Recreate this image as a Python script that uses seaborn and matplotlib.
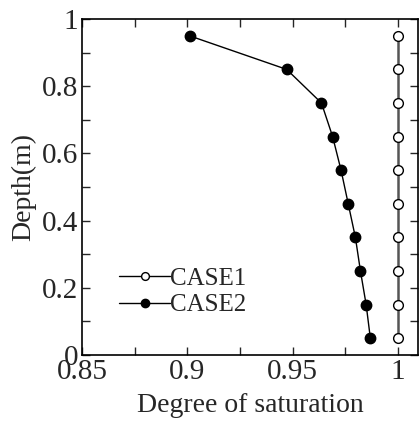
import numpy as np
import pandas as pd
import matplotlib
matplotlib.use("Agg")
import matplotlib.pyplot as plt
import seaborn as sns
from matplotlib.ticker import MultipleLocator

depth = [0.05, 0.15, 0.25, 0.35, 0.45, 0.55, 0.65, 0.75, 0.85, 0.95]
case1 = [1.0, 1.0, 1.0, 1.0, 1.0, 1.0, 1.0, 1.0, 1.0, 1.0]
case2 = [0.9868, 0.9848, 0.9821, 0.9797, 0.9763, 0.9729, 0.9689, 0.9636, 0.9471, 0.9010]
x_ticks = [0.85, 0.9, 0.95, 1.0]
x_tick_labels = ["0.85", "0.9", "0.95", "1"]
y_ticks = [0, 0.2, 0.4, 0.6, 0.8, 1.0]
y_tick_labels = ["0", "0.2", "0.4", "0.6", "0.8", "1"]

sns.set_style("ticks")
plt.rcParams['font.family'] = ['Liberation Serif', 'DejaVu Serif']

fig = plt.figure(figsize=(4.19, 4.23), dpi=100)
ax = fig.add_axes([0.196, 0.161, 0.802, 0.794])

df1 = pd.DataFrame({"x": case1, "y": depth})
df2 = pd.DataFrame({"x": case2, "y": depth})

sns.lineplot(data=df1, x="x", y="y", sort=False, estimator=None, ax=ax,
             color="#555555", lw=1.8, marker="o", markersize=7,
             markerfacecolor="white", markeredgecolor="black",
             markeredgewidth=1.0, label="CASE1")
sns.lineplot(data=df2, x="x", y="y", sort=False, estimator=None, ax=ax,
             color="black", lw=1.0, marker="o", markersize=7.5,
             markerfacecolor="black", markeredgecolor="black",
             markeredgewidth=1.0, label="CASE2")

ax.set_xlim(0.85, 1.0095)
ax.set_ylim(0, 1)
ax.set_xticks(x_ticks)
ax.set_xticklabels(x_tick_labels)
ax.set_yticks(y_ticks)
ax.set_yticklabels(y_tick_labels)
ax.xaxis.set_minor_locator(MultipleLocator(0.025))
ax.yaxis.set_minor_locator(MultipleLocator(0.1))
ax.tick_params(which="both", direction="in", top=True, right=True,
               labelsize=21)
ax.tick_params(axis="x", pad=3)
ax.tick_params(axis="y", pad=3)
ax.tick_params(which="major", length=6, width=1)
ax.tick_params(which="minor", length=6, width=1)
for s in ax.spines.values():
    s.set_linewidth(1.2)
    s.set_color("black")

ax.set_xlabel("Degree of saturation", fontsize=20, labelpad=6)
ax.set_ylabel("Depth(m)", fontsize=20, labelpad=4)

leg = ax.legend(loc="lower left", bbox_to_anchor=(0.08, 0.085), frameon=False,
                fontsize=18, handlelength=2.05, handletextpad=0.0,
                labelspacing=0.15, borderaxespad=0, markerscale=0.8)
for h in leg.get_lines():
    h.set_color("black")
    h.set_linewidth(1.0)

fig.savefig("out.png", dpi=100)
